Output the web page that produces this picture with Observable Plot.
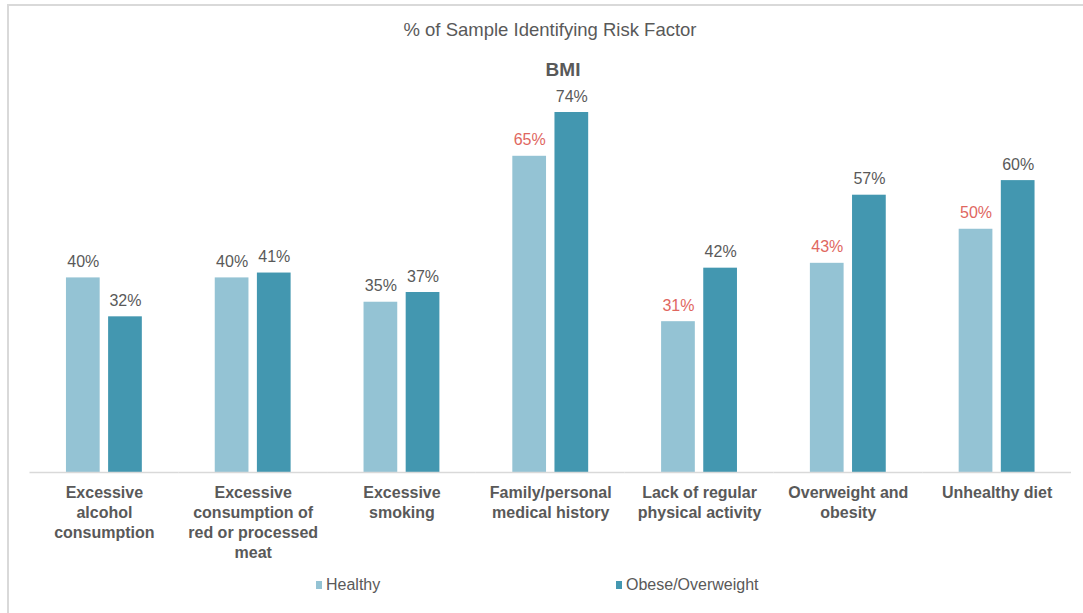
<!DOCTYPE html>
<html>
<head>
<meta charset="utf-8">
<script src="https://cdn.jsdelivr.net/npm/d3@7"></script>
<script src="https://cdn.jsdelivr.net/npm/@observablehq/plot@0.6"></script>
<style>
  html, body { margin: 0; padding: 0; background: #fff; }
  body { width: 1083px; height: 613px; position: relative; overflow: hidden; font-family: "Liberation Sans", Arial, sans-serif; }
  #frame { position: absolute; left: 7px; top: 4px; width: 1200px; height: 700px; border-top: 2px solid #d9d9d9; border-left: 2px solid #d9d9d9; }
  #title { position: absolute; left: 0; width: 1100px; top: 19px; text-align: center; font-size: 18.5px; color: #595959; }
  #subtitle { position: absolute; left: 0; width: 1126px; top: 59px; text-align: center; font-size: 19px; font-weight: bold; color: #595959; }
  #chart { position: absolute; left: 0; top: 0; }
  #legend { position: absolute; top: 576px; left: 0; width: 1083px; font-size: 16px; color: #595959; }
  .item { position: absolute; display: flex; align-items: center; }
  .sw { width: 6px; height: 8px; margin-right: 4px; }
  g[aria-label="category-labels"] text { letter-spacing: 0.5px; }
</style>
</head>
<body>
<div id="frame"></div>
<div id="title">% of Sample Identifying Risk Factor</div>
<div id="subtitle">BMI</div>
<div id="chart"></div>
<div id="legend"></div>
<script>
const categories = [
  "Excessive alcohol consumption",
  "Excessive consumption of red or processed meat",
  "Excessive smoking",
  "Family/personal medical history",
  "Lack of regular physical activity",
  "Overweight and obesity",
  "Unhealthy diet"
];
const tickLabels = [
  "Excessive\nalcohol\nconsumption",
  "Excessive\nconsumption of\nred or processed\nmeat",
  "Excessive\nsmoking",
  "Family/personal\nmedical history",
  "Lack of regular\nphysical activity",
  "Overweight and\nobesity",
  "Unhealthy diet"
];
const seriesNames = ["Healthy", "Obese/Overweight"];
const healthyValues = [40, 40, 35, 65, 31, 43, 50];
const obeseValues = [32, 41, 37, 74, 42, 57, 60];
const highlightedHealthy = [
  "Family/personal medical history",
  "Lack of regular physical activity",
  "Overweight and obesity",
  "Unhealthy diet"
];
const seriesColors = ["#94c3d4", "#4397b0"];

const rows = [];
categories.forEach((c, i) => {
  rows.push({category: c, series: seriesNames[0], value: healthyValues[i]});
  rows.push({category: c, series: seriesNames[1], value: obeseValues[i]});
});
const labelOf = new Map(categories.map((c, i) => [c, tickLabels[i]]));

const chart = Plot.plot({
  width: 1083,
  height: 560,
  marginTop: 112,
  marginBottom: 88,
  marginLeft: 29.5,
  marginRight: 12,
  style: {fontFamily: "'Liberation Sans', Arial, sans-serif", background: "transparent"},
  fx: {domain: categories, padding: 0, round: false, axis: null},
  x: {domain: seriesNames, paddingInner: 0.2, paddingOuter: 0.865, round: false, axis: null},
  y: {domain: [0, 74], axis: null},
  color: {domain: seriesNames, range: seriesColors},
  marks: [
    Plot.barY(rows, {fx: "category", x: "series", y: "value", fill: "series"}),
    Plot.ruleY([0], {stroke: "#d9d9d9", strokeWidth: 1.5}),
    Plot.text(rows, {
      fx: "category", x: "series", y: "value",
      text: d => d.value + "%",
      lineAnchor: "bottom", dy: -11, fontSize: 16,
      fill: d => (d.series === "Healthy" && highlightedHealthy.includes(d.category)) ? "#e0675f" : "#595959"
    }),
    Plot.text(categories, {
      ariaLabel: "category-labels",
      fx: d => d,
      text: d => labelOf.get(d),
      frameAnchor: "bottom", lineAnchor: "top", dy: 11,
      fontSize: 16, fontWeight: "bold", lineHeight: 1.25, fill: "#595959"
    })
  ]
});
document.getElementById("chart").appendChild(chart);

const legend = document.getElementById("legend");
const legendX = [316, 616];
seriesNames.forEach((s, i) => {
  const it = document.createElement("div");
  it.className = "item";
  it.style.left = legendX[i] + "px";
  it.innerHTML = `<span class="sw" style="background:${seriesColors[i]}"></span><span>${s}</span>`;
  legend.appendChild(it);
});
</script>
</body>
</html>
